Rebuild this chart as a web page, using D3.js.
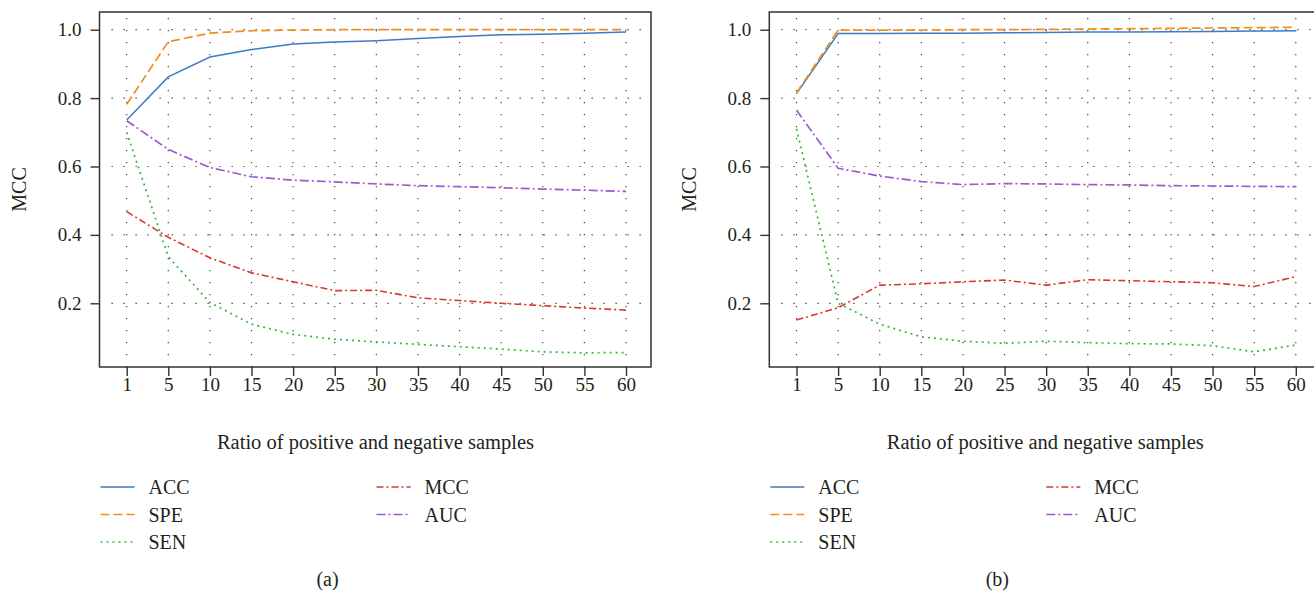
<!DOCTYPE html>
<html><head><meta charset="utf-8">
<script src="https://cdn.jsdelivr.net/npm/d3@7"></script>
<style>
html,body{margin:0;padding:0;background:#fff;}
svg{display:block;}
text{font-family:"Liberation Serif","Times New Roman",serif;fill:#231f20;}
</style>
</head><body>
<svg id="chart" width="1314" height="592"></svg>
<script>
// ---- data ----
const categories = ["1","5","10","15","20","25","30","35","40","45","50","55","60"];
const yTicks = [0.2, 0.4, 0.6, 0.8, 1.0];
const seriesNames = ["ACC","SPE","SEN","MCC","AUC"];

// panel (a)
const accA = [0.736, 0.862, 0.920, 0.942, 0.958, 0.964, 0.968, 0.974, 0.980, 0.985, 0.987, 0.990, 0.993];
const speA = [0.782, 0.965, 0.990, 0.997, 0.999, 1.000, 1.000, 1.000, 1.000, 1.000, 1.000, 1.000, 1.000];
const senA = [0.700, 0.336, 0.202, 0.139, 0.109, 0.095, 0.087, 0.080, 0.073, 0.066, 0.058, 0.055, 0.056];
const mccA = [0.468, 0.393, 0.333, 0.289, 0.263, 0.237, 0.238, 0.216, 0.208, 0.200, 0.193, 0.186, 0.180];
const aucA = [0.734, 0.650, 0.597, 0.570, 0.560, 0.555, 0.549, 0.544, 0.541, 0.538, 0.534, 0.531, 0.527];

// panel (b)
const accB = [0.813, 0.989, 0.989, 0.990, 0.990, 0.991, 0.992, 0.993, 0.993, 0.994, 0.995, 0.996, 0.997];
const speB = [0.815, 0.999, 0.999, 0.999, 1.000, 1.000, 1.001, 1.002, 1.003, 1.004, 1.005, 1.006, 1.007];
const senB = [0.710, 0.200, 0.139, 0.102, 0.089, 0.083, 0.089, 0.085, 0.082, 0.081, 0.076, 0.058, 0.078];
const mccB = [0.151, 0.187, 0.253, 0.257, 0.263, 0.268, 0.253, 0.269, 0.266, 0.263, 0.260, 0.249, 0.278];
const aucB = [0.765, 0.595, 0.572, 0.556, 0.547, 0.550, 0.549, 0.547, 0.546, 0.544, 0.543, 0.542, 0.541];

const xLabel = "Ratio of positive and negative samples";
const yLabel = "MCC";
const panelLabels = ["(a)", "(b)"];

// ---- styles ----
const styles = {
  ACC: {color:"#3a7dc2", dash:null, w:1.5},
  SPE: {color:"#f28e1e", dash:"9,4", w:1.7},
  SEN: {color:"#36b836", dash:"2,4", w:1.7},
  MCC: {color:"#d8382c", dash:"7,3,2,3", w:1.6},
  AUC: {color:"#9b5bd0", dash:"9,3,2,3", w:1.7}
};

const svg = d3.select("#chart");
const W = 551.5, H = 355;

function drawPanel(left, top, seriesData, label) {
  const g = svg.append("g").attr("transform", `translate(${left},${top})`);
  const x = d3.scalePoint().domain(categories).range([27.2, 526.5]);
  const y = d3.scaleLinear().domain([0.0137, 1.0518]).range([H, 0]);

  // grid
  g.append("g").selectAll("line.vg").data(categories).join("line")
    .attr("x1", d => x(d)).attr("x2", d => x(d))
    .attr("y1", 6).attr("y2", H)
    .attr("stroke", "#444").attr("stroke-width", 1.2).attr("stroke-dasharray", "1.3,10.7");
  g.append("g").selectAll("line.hg").data(yTicks).join("line")
    .attr("x1", 12).attr("x2", W - 8)
    .attr("y1", d => y(d)).attr("y2", d => y(d))
    .attr("stroke", "#444").attr("stroke-width", 1.2).attr("stroke-dasharray", "1.3,10.7");

  // axes
  const xAxis = d3.axisBottom(x).tickSize(9).tickPadding(2);
  const gx = g.append("g").attr("transform", `translate(0,${H})`).call(xAxis);
  const yAxis = d3.axisLeft(y).tickValues(yTicks).tickFormat(d3.format(".1f")).tickSize(9).tickPadding(9);
  const gy = g.append("g").call(yAxis);
  [gx, gy].forEach(a => {
    a.select(".domain").remove();
    a.selectAll(".tick line").attr("stroke", "#333").attr("stroke-width", 1.4);
    a.selectAll(".tick text").style("font-family", '"Liberation Serif",serif').style("font-size", "19px").attr("fill", "#231f20");
  });

  // frame
  g.append("rect").attr("x", 0).attr("y", 0).attr("width", W).attr("height", H)
    .attr("fill", "none").attr("stroke", "#333").attr("stroke-width", 1.5);

  // lines
  const line = d3.line().x((d, i) => x(categories[i])).y(d => y(d));
  seriesNames.forEach((name, k) => {
    const s = styles[name];
    g.append("path").datum(seriesData[k])
      .attr("d", line).attr("fill", "none")
      .attr("stroke", s.color).attr("stroke-width", s.w)
      .attr("stroke-dasharray", s.dash);
  });

  // labels
  g.append("text").attr("x", 276).attr("y", 436.5)
    .attr("text-anchor", "middle").style("font-size", "20.5px").text(xLabel);
  g.append("text").attr("transform", `translate(-73.5,${H/2}) rotate(-90)`)
    .attr("text-anchor", "middle").style("font-size", "20px").text(yLabel);
  g.append("text").attr("x", 228).attr("y", 574)
    .attr("text-anchor", "middle").style("font-size", "20px").text(label);

  // legend
  const legPos = [[0, 475], [0, 502.5], [0, 530], [276, 475], [276, 502.5]];
  seriesNames.forEach((name, k) => {
    const s = styles[name];
    const [lx, ly] = legPos[k];
    g.append("line").attr("x1", lx + 1).attr("x2", lx + 35).attr("y1", ly).attr("y2", ly)
      .attr("stroke", s.color).attr("stroke-width", s.w).attr("stroke-dasharray", s.dash);
    g.append("text").attr("x", lx + 49).attr("y", ly).attr("dy", "0.35em")
      .style("font-size", "20px").text(name);
  });
}

drawPanel(99.5, 12, [accA, speA, senA, mccA, aucA], panelLabels[0]);
drawPanel(769.3, 12, [accB, speB, senB, mccB, aucB], panelLabels[1]);
</script>
</body></html>
